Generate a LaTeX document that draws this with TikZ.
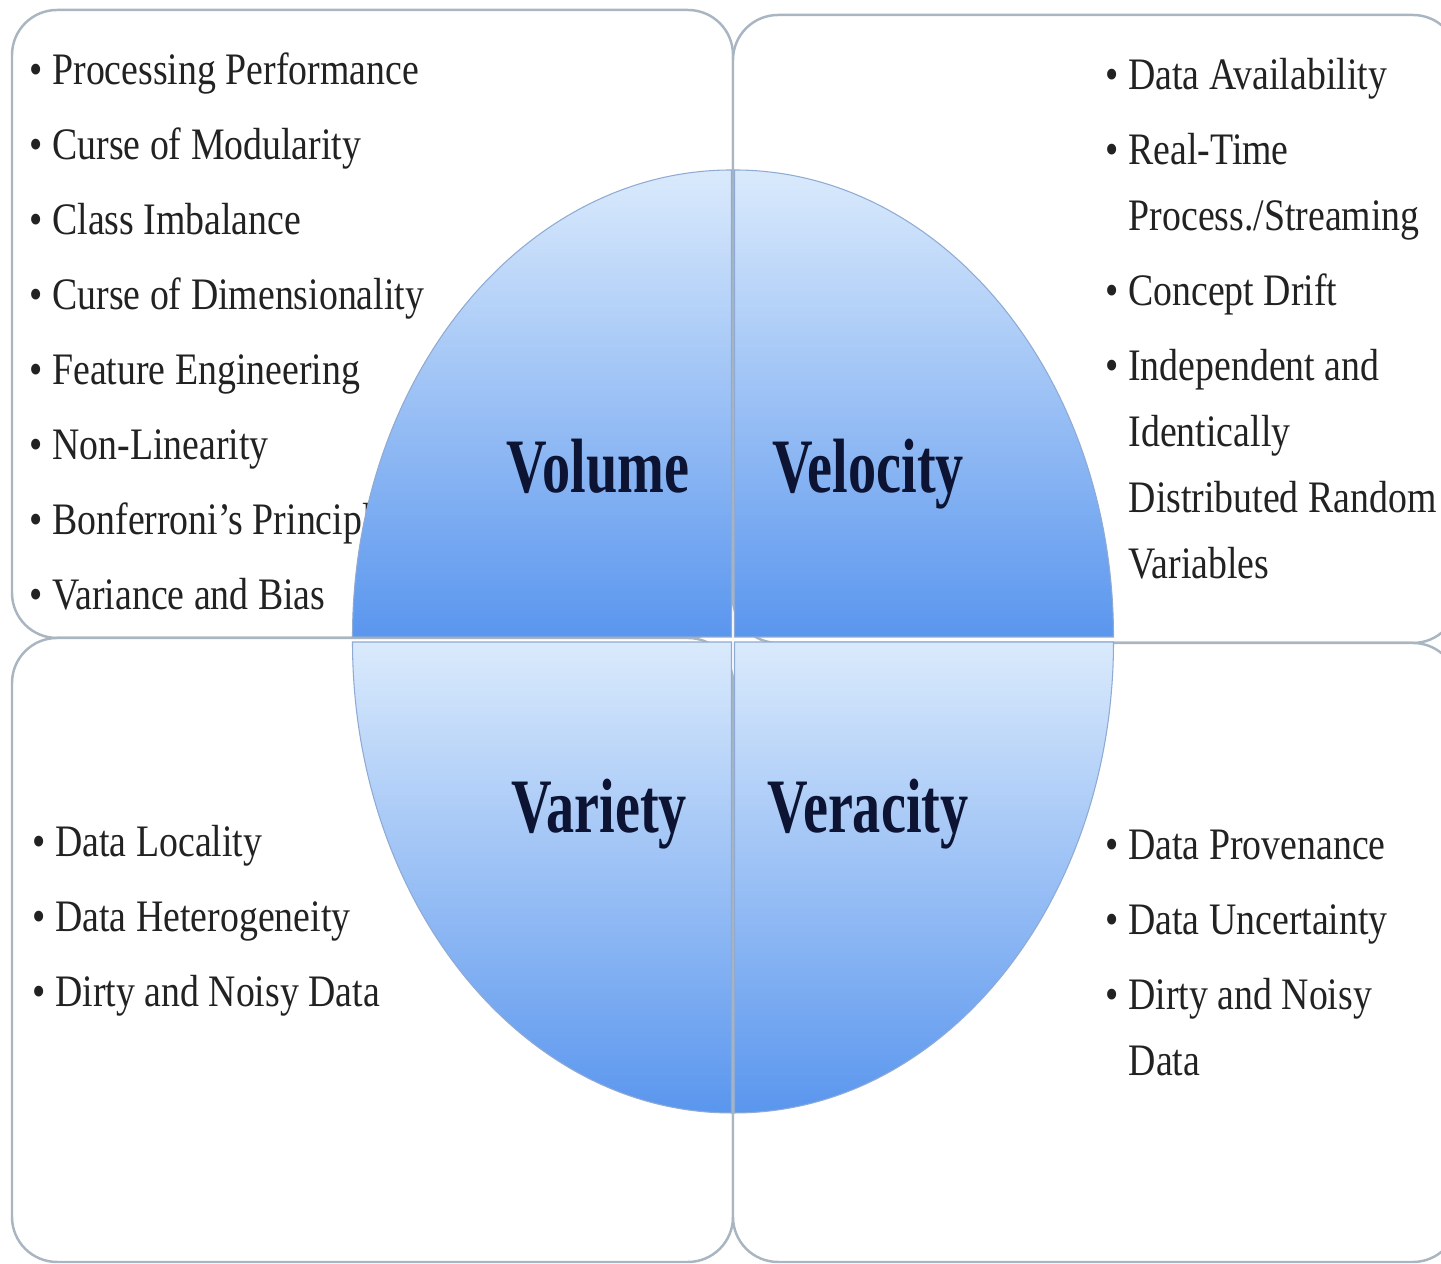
\documentclass[tikz,border=0pt]{standalone}
\usepackage{fontspec}
\setmainfont{Liberation Serif}[FakeStretch=0.84]
\newfontfamily\vfont{Liberation Serif}[FakeStretch=0.73]
\definecolor{panelline}{HTML}{A9B6C2}
\definecolor{qtop}{HTML}{DAEAFC}
\definecolor{qbot}{HTML}{5A96EE}
\definecolor{qedge}{HTML}{8FAAD3}
\definecolor{vtext}{HTML}{0D1433}
\definecolor{etext}{HTML}{222222}
\begin{document}
\begin{tikzpicture}[x=0.01cm, y=0.01cm,
  panel/.style={draw=panelline, line width=0.7pt, rounded corners=0.45cm, fill=white},
  quad/.style={top color=qtop, bottom color=qbot, draw=qedge, line width=0.3pt},
  entry/.style={anchor=base west, inner sep=0pt, text=etext, font=\fontsize{12.8pt}{15pt}\selectfont},
  vname/.style={anchor=base, inner sep=0pt, text=vtext, font=\vfont\bfseries\fontsize{21.9pt}{24pt}\selectfont}]
\useasboundingbox (0,0) rectangle (1441,1264);

% panels
\draw[panel] (12,626) rectangle (733,1254);
\draw[panel] (733,621) rectangle (1458,1249);
\draw[panel] (12,2) rectangle (733,626);
\draw[panel] (733,2) rectangle (1458,621);

% volume list
\node[entry] (vol1) at (29,1179) {\textbullet{} Processing Performance};
\node[entry] (vol2) at (29,1104) {\textbullet{} Curse of Modularity};
\node[entry] (vol3) at (29,1029) {\textbullet{} Class Imbalance};
\node[entry] (vol4) at (29,954) {\textbullet{} Curse of Dimensionality};
\node[entry] (vol5) at (29,879) {\textbullet{} Feature Engineering};
\node[entry] (vol6) at (29,804) {\textbullet{} Non-Linearity};
\node[entry] (vol7) at (29,729) {\textbullet{} Bonferroni’s Principle};
\node[entry] (vol8) at (29,654) {\textbullet{} Variance and Bias};

% velocity list
\node[entry] (vel1) at (1105,1174) {\textbullet{} Data Availability};
\node[entry] (vel2) at (1105,1099) {\textbullet{} Real-Time};
\node[entry] (vel3) at (1128,1033) {Process./Streaming};
\node[entry] (vel4) at (1105,958) {\textbullet{} Concept Drift};
\node[entry] (vel5) at (1105,883) {\textbullet{} Independent and};
\node[entry] (vel6) at (1128,817) {Identically};
\node[entry] (vel7) at (1128,751) {Distributed Random};
\node[entry] (vel8) at (1128,685) {Variables};

% variety list
\node[entry] (var1) at (32,407) {\textbullet{} Data Locality};
\node[entry] (var2) at (32,332) {\textbullet{} Data Heterogeneity};
\node[entry] (var3) at (32,257) {\textbullet{} Dirty and Noisy Data};

% veracity list
\node[entry] (ver1) at (1105,404) {\textbullet{} Data Provenance};
\node[entry] (ver2) at (1105,329) {\textbullet{} Data Uncertainty};
\node[entry] (ver3) at (1105,254) {\textbullet{} Dirty and Noisy};
\node[entry] (ver4) at (1128,188) {Data};

% the four quarters
\draw[quad] (731.5,627) -- (352.5,627) arc[start angle=180, end angle=90, x radius=379, y radius=467] -- cycle;
\draw[quad] (734.5,627) -- (1113.5,627) arc[start angle=0, end angle=90, x radius=379, y radius=467] -- cycle;
\draw[quad] (731.5,622) -- (352.5,622) arc[start angle=180, end angle=270, x radius=379, y radius=471] -- cycle;
\draw[quad] (734.5,622) -- (1113.5,622) arc[start angle=0, end angle=-90, x radius=379, y radius=471] -- cycle;

\node[vname] (volume) at (598,771) {Volume};
\node[vname] (velocity) at (868,771) {Velocity};
\node[vname] (variety) at (599,431) {Variety};
\node[vname] (veracity) at (868,431) {Veracity};
\end{tikzpicture}
\end{document}
